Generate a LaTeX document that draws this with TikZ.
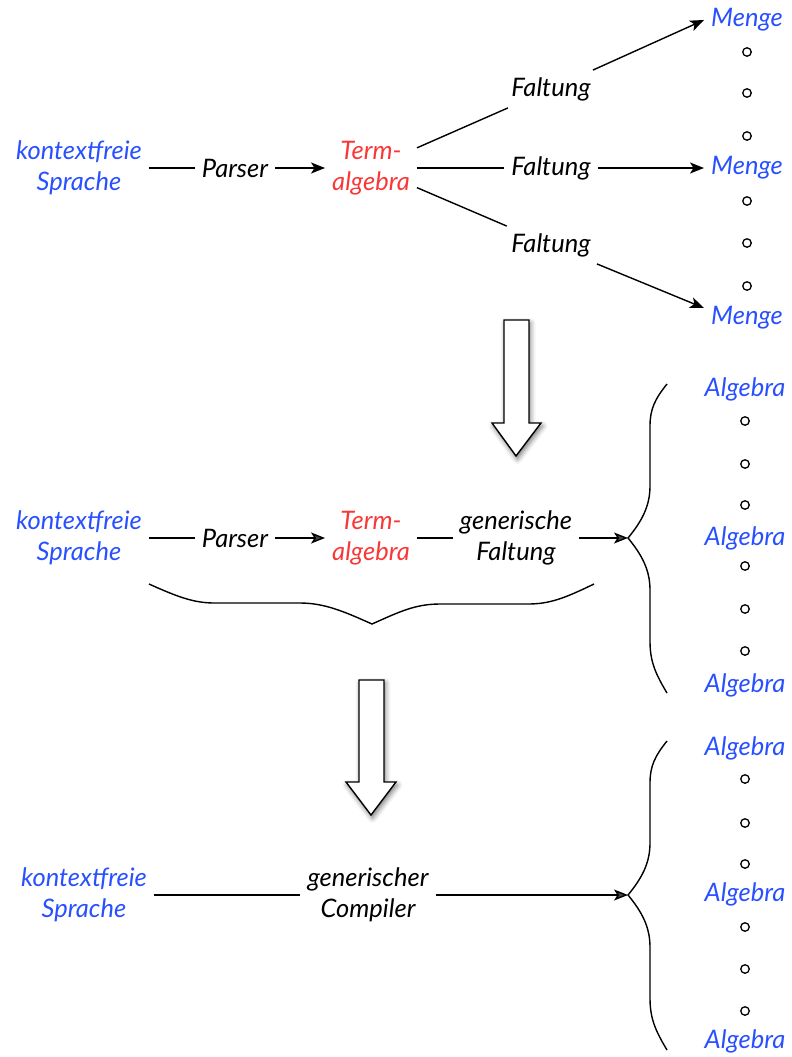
\documentclass[tikz,border=0pt]{standalone}
\usepackage{fontspec}
\setmainfont{Lato}
\usetikzlibrary{arrows.meta,shadows.blur}
\definecolor{langblue}{RGB}{40,80,255}
\definecolor{termred}{RGB}{250,55,55}

\begin{document}
\begin{tikzpicture}[x=1pt,y=-1pt,
  lbl/.style={font=\fontsize{25.5}{31}\selectfont\itshape, align=center, inner sep=7pt},
  lang/.style={lbl, text=langblue},
  termtxt/.style={lbl, text=termred},
  conn/.style={line width=1.4pt},
  arr/.style={conn, -{Stealth[length=14pt,width=11pt,inset=3.5pt]}},
  dot/.style={circle, draw, line width=1.3pt, minimum size=8.5pt, inner sep=0pt},
  bracepath/.style={line width=1.4pt},
  bigarrow/.style={draw, fill=white, line width=1.4pt,
    blur shadow={shadow xshift=1.5pt, shadow yshift=-3pt, shadow blur radius=5pt, shadow opacity=55}},
  vbrace/.pic={
    \draw[bracepath] (39,-154) .. controls (27,-139) and (22,-129) .. (22,-112)
      -- (22,-52) .. controls (22,-32) and (14,-17) .. (0,0)
      .. controls (14,17) and (22,32) .. (22,52)
      -- (22,103) .. controls (22,123) and (27,135) .. (39,155);
  }
]
\useasboundingbox (0,0) rectangle (792,1057);

% ---------- first row: parser, term algebra and three folds ----------
\node[lang] (src1) at (79,168) {kontextfreie\\Sprache};
\node[lbl] (par1) at (235,168) {Parser};
\node[termtxt] (ta1) at (371,168) {Term-\\algebra};
\node[lbl] (f1) at (551,89) {Faltung};
\node[lbl] (f2) at (551,168) {Faltung};
\node[lbl] (f3) at (551,245) {Faltung};
\node[lang] (m1) at (747,20) {Menge};
\node[lang] (m2) at (747,168) {Menge};
\node[lang] (m3) at (747,318) {Menge};

\draw[conn] (src1) -- (par1);
\draw[arr] (par1) -- (ta1);
\draw[conn] (ta1) -- (f1);
\draw[conn] (ta1) -- (f2);
\draw[conn] (ta1) -- (f3);
\draw[arr] (f1) -- (m1.west);
\draw[arr] (f2) -- (m2);
\draw[arr] (f3) -- ([yshift=10pt]m3.west);

\foreach \y [count=\i] in {52,93,136,201,243,286}
  \node[dot] (da\i) at (747,\y) {};

% ---------- first block arrow ----------
\draw[bigarrow] (504,320) -- (529,320) -- (529,423) -- (541,423) -- (516,456)
  -- (492,423) -- (504,423) -- cycle;

% ---------- second row: generic fold ----------
\node[lang] (src2) at (79,538) {kontextfreie\\Sprache};
\node[lbl] (par2) at (235,538) {Parser};
\node[termtxt] (ta2) at (371,538) {Term-\\algebra};
\node[lbl] (gf) at (516,538) {generische\\Faltung};
\coordinate (tip2) at (628,538);
\node[lang] (a1) at (745,389) {Algebra};
\node[lang] (a2) at (745,538) {Algebra};
\node[lang] (a3) at (745,685) {Algebra};

\draw[conn] (src2) -- (par2);
\draw[arr] (par2) -- (ta2);
\draw[conn] (ta2) -- (gf);
\draw[arr] (gf) -- (tip2);
\pic at (tip2) {vbrace};

\foreach \y [count=\i] in {421,464,505,566,609,651}
  \node[dot] (db\i) at (745,\y) {};

% brace grouping parser, term algebra and fold
\draw[bracepath] (149,584) .. controls (180,598) and (195,603) .. (215,603)
  -- (300,603) .. controls (325,603) and (345,612) .. (372,624)
  .. controls (399,612) and (415,604) .. (440,604)
  -- (528,604) .. controls (550,604) and (565,598) .. (594,584);

% ---------- second block arrow ----------
\draw[bigarrow] (359,680) -- (384,680) -- (384,782) -- (396,782) -- (371,815)
  -- (346,782) -- (359,782) -- cycle;

% ---------- third row: generic compiler ----------
\node[lang] (src3) at (84,895) {kontextfreie\\Sprache};
\node[lbl] (gc) at (368,895) {generischer\\Compiler};
\coordinate (tip3) at (628,895);
\node[lang] (c1) at (745,748) {Algebra};
\node[lang] (c2) at (745,894) {Algebra};
\node[lang] (c3) at (745,1041) {Algebra};

\draw[conn] (src3) -- (gc);
\draw[arr] (gc) -- (tip3);
\pic at (tip3) {vbrace};

\foreach \y [count=\i] in {779,823,864,927,969,1011}
  \node[dot] (dc\i) at (745,\y) {};
\end{tikzpicture}
\end{document}
